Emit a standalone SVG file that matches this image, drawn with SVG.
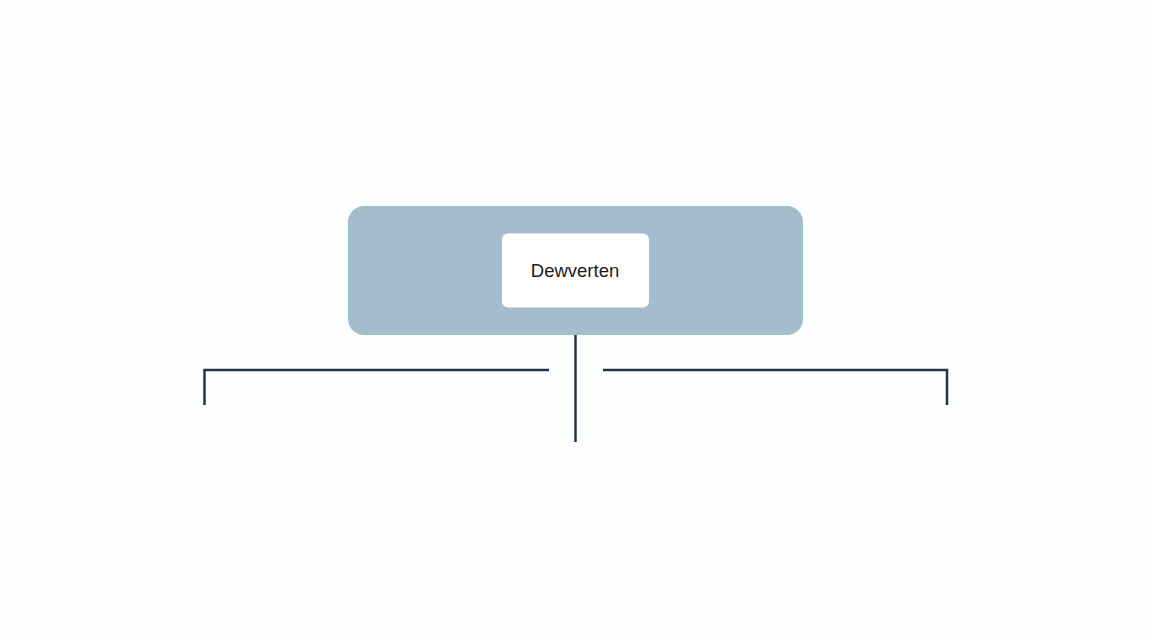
<svg xmlns="http://www.w3.org/2000/svg" width="1152" height="640" viewBox="0 0 1152 640">
<style>
.conn{fill:none;stroke:#233649;stroke-width:2.5;stroke-linecap:butt;stroke-linejoin:miter}
.lbl{font-family:"Liberation Sans",Arial,sans-serif;font-size:18.5px;fill:#1a1a1a}
</style>
<rect width="1152" height="640" fill="#fdfefe"/>
<g id="outer">
<rect x="348" y="206" width="455" height="129" rx="16" fill="#a3bdcd"/>
</g>
<g id="node-dewverten">
<rect x="502" y="233.5" width="147" height="74" rx="6" fill="#ffffff"/>
<text class="lbl" x="575" y="276.5" text-anchor="middle">Dewverten</text>
</g>
<g id="connectors">
<path class="conn" d="M575.5 335 V442"/>
<path class="conn" d="M204.5 405 V370 H549"/>
<path class="conn" d="M603 370 H947 V405"/>
</g>
</svg>
